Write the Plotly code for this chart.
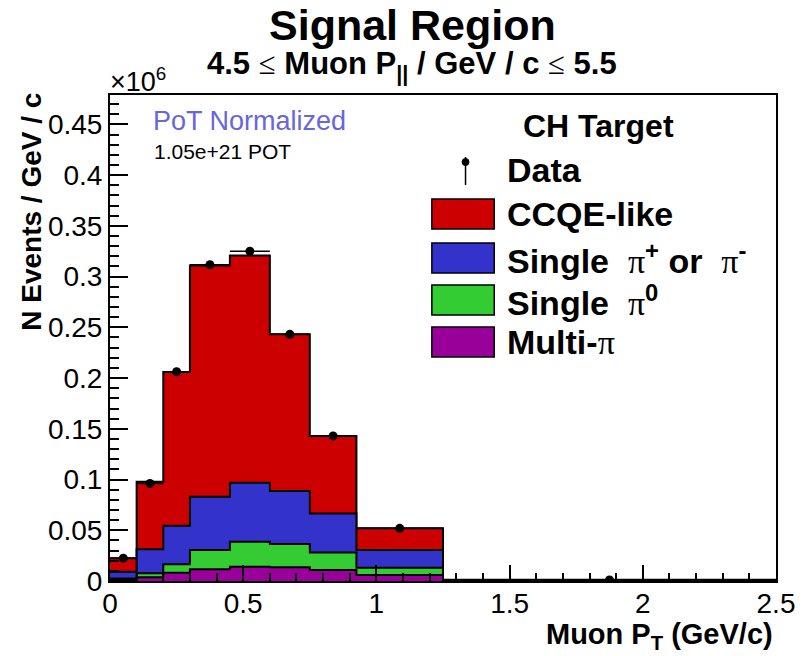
import plotly.graph_objects as go

# ---------------- data (values in units of 10^6 events / GeV / c) ----------------
bin_edges = [0.0, 0.1, 0.2, 0.3, 0.45, 0.6, 0.75, 0.925, 1.25, 2.5]
multi_pi = [0.0010, 0.0036, 0.0082, 0.0115, 0.0141, 0.0135, 0.0108, 0.0059, 0.0003]
single_pi0 = [0.0015, 0.0040, 0.0082, 0.0190, 0.0246, 0.0230, 0.0174, 0.0072, 0.0002]
single_pipm = [0.0067, 0.0238, 0.0380, 0.0525, 0.0581, 0.0521, 0.0384, 0.0174, 0.0003]
ccqe_like = [0.0132, 0.0663, 0.1516, 0.2280, 0.2241, 0.1545, 0.0763, 0.0214, 0.0004]
data_vals = [0.0225, 0.0962, 0.2062, 0.3118, 0.3251, 0.2431, 0.1430, 0.0519, 0.0010]
data_errs = [0.0015, 0.0020, 0.0022, 0.0022, 0.0022, 0.0022, 0.0020, 0.0015, 0.0004]

x_tick_vals = [0, 0.5, 1, 1.5, 2, 2.5]
y_tick_vals = [0, 0.05, 0.1, 0.15, 0.2, 0.25, 0.3, 0.35, 0.4, 0.45]

layer_names = ["Multi-π", "Single π0", "Single π±", "CCQE-like"]
layer_colors = ["#990099", "#33CC33", "#3333CC", "#CC0000"]
layers = [multi_pi, single_pi0, single_pipm, ccqe_like]

FONT = "Liberation Sans, Arial, Helvetica, sans-serif"
SERIF = "Liberation Serif"

# cumulative stack
cum = []
running = [0.0] * len(multi_pi)
for comp in layers:
    running = [a + b for a, b in zip(running, comp)]
    cum.append(list(running))

fig = go.Figure()

# draw from the top of the stack down so lower layers overlay
for i in reversed(range(len(layers))):
    yv = cum[i] + [cum[i][-1]]
    fig.add_trace(go.Scatter(
        x=bin_edges, y=yv, mode="lines", line_shape="hv",
        line=dict(color="black", width=2),
        fill="tozeroy", fillcolor=layer_colors[i],
        name=layer_names[i], showlegend=False, hoverinfo="skip"))

centers = [(a + b) / 2 for a, b in zip(bin_edges[:-1], bin_edges[1:])]
half_w = [(b - a) / 2 for a, b in zip(bin_edges[:-1], bin_edges[1:])]
fig.add_trace(go.Scatter(
    x=centers, y=data_vals, mode="markers",
    marker=dict(color="black", size=9, symbol="circle"),
    error_y=dict(type="data", array=data_errs, color="black", thickness=1.5, width=0),
    error_x=dict(type="data", array=half_w, color="black", thickness=1.5, width=0),
    name="Data", showlegend=False))

# ---------------- layout geometry ----------------
L, R, T, B = 110, 782.5, 95, 581
W, H = 807, 656


def px(x):
    return (x - L) / (R - L)


def py(y):
    return (B - y) / (B - T)


anns = []
shapes = []
NB = "\u00a0"

anns.append(dict(text="<b>Signal Region</b>", x=px(415), y=py(25), xref="paper", yref="paper",
                 showarrow=False, font=dict(size=43, family=FONT, color="black"),
                 xanchor="center", yanchor="middle"))
anns.append(dict(text="<b>4.5 </b><span style=\"font-family:'%s';font-weight:normal\">≤</span>"
                      "<b> Muon P<sub>||</sub> / GeV / c </b>"
                      "<span style=\"font-family:'%s';font-weight:normal\">≤</span><b> 5.5</b>" % (SERIF, SERIF),
                 x=px(415), y=py(66), xref="paper", yref="paper",
                 showarrow=False, font=dict(size=31, family=FONT, color="black"),
                 xanchor="center", yanchor="middle"))
anns.append(dict(text="×10<sup>6</sup>", x=px(108), y=py(80), xref="paper", yref="paper",
                 showarrow=False, font=dict(size=27, family=FONT, color="black"),
                 xanchor="left", yanchor="middle"))
anns.append(dict(text="<b>N Events / GeV / c</b>", x=px(30), y=py(212), xref="paper", yref="paper",
                 textangle=-90, showarrow=False, font=dict(size=28, family=FONT, color="black"),
                 xanchor="center", yanchor="middle"))
anns.append(dict(text="<b>Muon P<sub>T</sub> (GeV/c)</b>", x=px(781), y=py(636), xref="paper", yref="paper",
                 showarrow=False, font=dict(size=29, family=FONT, color="black"),
                 xanchor="right", yanchor="middle"))
anns.append(dict(text="PoT Normalized", x=px(151), y=py(121), xref="paper", yref="paper",
                 showarrow=False, font=dict(size=27, family=FONT, color="#6666DD"),
                 xanchor="left", yanchor="middle"))
anns.append(dict(text="1.05e+21 POT", x=px(152), y=py(151), xref="paper", yref="paper",
                 showarrow=False, font=dict(size=21, family=FONT, color="black"),
                 xanchor="left", yanchor="middle"))
anns.append(dict(text="<b>CH Target</b>", x=px(603), y=py(126), xref="paper", yref="paper",
                 showarrow=False, font=dict(size=32, family=FONT, color="black"),
                 xanchor="center", yanchor="middle"))

pi = "<span style=\"font-family:'%s';font-weight:normal\">π</span>" % SERIF
legend_rows = [
    ("<b>Data</b>", None, 170),
    ("<b>CCQE-like</b>", "#CC0000", 214),
    ("<b>Single" + NB + NB + "</b>" + pi + "<b><sup>+</sup> or" + NB + NB + "</b>" + pi + "<b><sup>-</sup></b>",
     "#3333CC", 258),
    ("<b>Single" + NB + NB + "</b>" + pi + "<b><sup>0</sup></b>", "#33CC33", 300),
    ("<b>Multi-</b>" + pi, "#990099", 342),
]
for text, col, yc in legend_rows:
    anns.append(dict(text=text, x=px(509), y=py(yc), xref="paper", yref="paper",
                     showarrow=False, font=dict(size=34, family=FONT, color="black"),
                     xanchor="left", yanchor="middle"))
    if col is None:
        shapes.append(dict(type="line", xref="paper", yref="paper",
                           x0=px(469), x1=px(469), y0=py(157), y1=py(185),
                           line=dict(color="black", width=1.5)))
        shapes.append(dict(type="circle", xref="paper", yref="paper",
                           x0=px(465.5), x1=px(472.5), y0=py(165.5), y1=py(158.5),
                           fillcolor="black", line=dict(color="black", width=1)))
    else:
        shapes.append(dict(type="rect", xref="paper", yref="paper",
                           x0=px(435), x1=px(498), y0=py(yc - 15), y1=py(yc + 15),
                           fillcolor=col, line=dict(color="black", width=1.5)))

fig.update_layout(
    width=W, height=H,
    margin=dict(l=L, r=W - R, t=T, b=H - B, pad=0),
    paper_bgcolor="white", plot_bgcolor="white",
    showlegend=False,
    annotations=anns, shapes=shapes,
    font=dict(family=FONT, color="black"),
    xaxis=dict(range=[0, 2.5], tickmode="array", tickvals=x_tick_vals,
               ticks="inside", ticklen=16, tickwidth=1.5, tickcolor="black",
               minor=dict(tickmode="linear", tick0=0, dtick=0.1, ticks="inside", ticklen=8,
                          tickwidth=1.5, tickcolor="black", showgrid=False),
               showline=True, linecolor="black", linewidth=2, mirror=True,
               showgrid=False, zeroline=False, ticklabelstandoff=-4,
               tickfont=dict(size=28, family=FONT, color="black")),
    yaxis=dict(range=[0, 0.479], tickmode="array", tickvals=y_tick_vals,
               ticks="inside", ticklen=18, tickwidth=1.5, tickcolor="black",
               minor=dict(tickmode="linear", tick0=0, dtick=0.01, ticks="inside", ticklen=9,
                          tickwidth=1.5, tickcolor="black", showgrid=False),
               showline=True, linecolor="black", linewidth=2, mirror=True,
               showgrid=False, zeroline=False,
               tickfont=dict(size=28, family=FONT, color="black")),
)

fig.write_html("out.html")
